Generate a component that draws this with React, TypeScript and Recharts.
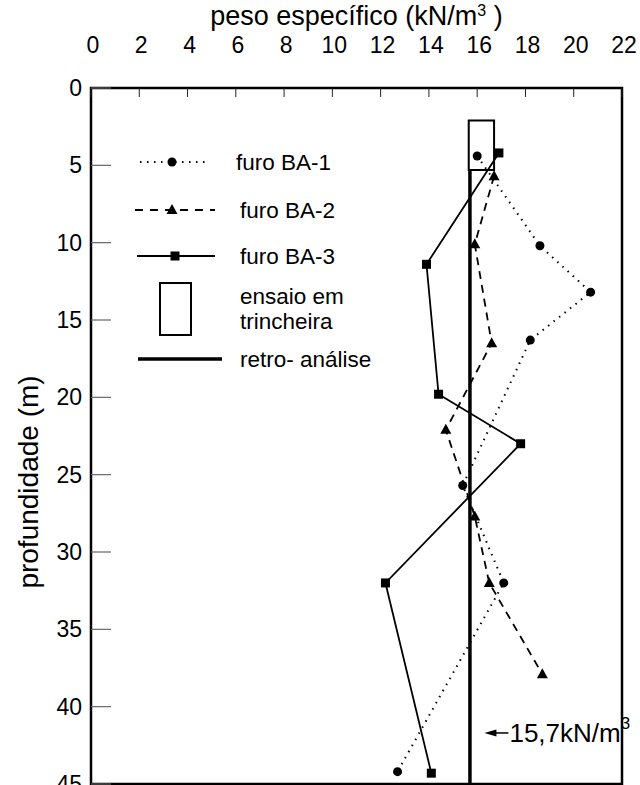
import React from 'react';
import {
  ScatterChart, Scatter, XAxis, YAxis, ReferenceArea, ReferenceLine, ReferenceDot, Legend, Label,
} from 'recharts';

// peso específico (kN/m3) x profundidade (m)
const ba1Peso = [16.0, 18.6, 20.7, 18.2, 15.4, 17.1, 12.7];
const ba1Prof = [4.4, 10.2, 13.2, 16.3, 25.7, 32.0, 44.2];

const ba2Peso = [16.7, 15.9, 16.6, 14.7, 15.9, 16.5, 18.7];
const ba2Prof = [5.7, 10.1, 16.5, 22.1, 27.7, 32.0, 37.9];

const ba3Peso = [16.9, 13.9, 14.4, 17.8, 12.2, 14.1];
const ba3Prof = [4.2, 11.4, 19.8, 23.0, 32.0, 44.3];

// ensaio em trincheira (faixa de valores / profundidades)
const trincheiraPeso = [15.65, 16.7];
const trincheiraProf = [2.1, 5.3];

const retroPeso = 15.7;
const retroProf = [5.3, 45];

const xTicks = [0, 2, 4, 6, 8, 10, 12, 14, 16, 18, 20, 22];
const yTicks = [0, 5, 10, 15, 20, 25, 30, 35, 40, 45];

const FONT = '"Liberation Sans", Arial, sans-serif';

const toPoints = (peso: number[], prof: number[]) => peso.map((v, i) => ({ v, d: prof[i] }));

const ba1 = toPoints(ba1Peso, ba1Prof);
const ba2 = toPoints(ba2Peso, ba2Prof);
const ba3 = toPoints(ba3Peso, ba3Prof);

const CircleMark = ({ cx, cy }: any) => <circle cx={cx} cy={cy} r={4.5} fill="#000" />;
const TriangleMark = ({ cx, cy }: any) => (
  <polygon points={`${cx},${cy - 6} ${cx - 5.5},${cy + 4} ${cx + 5.5},${cy + 4}`} fill="#000" />
);
const SquareMark = ({ cx, cy }: any) => <rect x={cx - 4.5} y={cy - 4.5} width={9} height={9} fill="#000" />;

const XTick = ({ x, y, payload }: any) => (
  <g>
    <line x1={x} x2={x} y1={y} y2={y + 9} stroke="#222" strokeWidth={1} />
    <text x={x + 2} y={y - 43} textAnchor="middle" dominantBaseline="central" fontSize={23} fontFamily={FONT} fill="#000">
      {payload.value}
    </text>
  </g>
);

const YTick = ({ x, y, payload }: any) => (
  <g>
    <line x1={x} x2={x + 20} y1={y} y2={y} stroke="#666" strokeWidth={1.2} />
    <text x={x - 9} y={y} textAnchor="end" dominantBaseline="central" fontSize={23} fontFamily={FONT} fill="#000">
      {payload.value}
    </text>
  </g>
);

const Title = ({ viewBox }: any) => (
  <text x={viewBox.x + viewBox.width / 2} y={16} textAnchor="middle" dominantBaseline="central" fontSize={27} fontFamily={FONT} fill="#000">
    peso específico (kN/m<tspan dy={-6} fontSize={16}>3</tspan><tspan dy={6}> )</tspan>
  </text>
);

const YLabel = ({ viewBox }: any) => {
  const cx = viewBox.x + 28;
  const cy = viewBox.y + viewBox.height / 2 + 46;
  return (
    <text transform={`translate(${cx},${cy}) rotate(-90)`} textAnchor="middle" dominantBaseline="central" fontSize={28} fontFamily={FONT} fill="#000">
      profundidade (m)
    </text>
  );
};

const Annotation = ({ cx, cy }: any) => (
  <g>
    <polygon points={`${cx},${cy} ${cx + 12},${cy - 3.5} ${cx + 12},${cy + 3.5}`} fill="#000" />
    <line x1={cx + 10} x2={cx + 24} y1={cy} y2={cy} stroke="#000" strokeWidth={1.5} />
    <text x={cx + 25} y={cy} dominantBaseline="central" fontSize={26} fontFamily={FONT} fill="#000">
      15,7kN/m<tspan dy={-10} fontSize={17}>3</tspan>
    </text>
  </g>
);

const legendRows = [
  { key: 'ba1', label: ['furo BA-1'], y: 162 },
  { key: 'ba2', label: ['furo BA-2'], y: 210 },
  { key: 'ba3', label: ['furo BA-3'], y: 256 },
  { key: 'trincheira', label: ['ensaio em', 'trincheira'], y: 309 },
  { key: 'retro', label: ['retro- análise'], y: 359 },
];

const LegendContent = () => (
  <svg width={640} height={400} style={{ display: 'block' }}>
    {legendRows.map(row => {
      const y = row.y;
      let sym: React.ReactNode = null;
      if (row.key === 'ba1') {
        sym = (
          <g>
            <line x1={140} x2={205} y1={y} y2={y} stroke="#000" strokeWidth={2} strokeDasharray="1.5 5.5" />
            <CircleMark cx={172} cy={y} />
          </g>
        );
      } else if (row.key === 'ba2') {
        sym = (
          <g>
            <line x1={135} x2={215} y1={y} y2={y} stroke="#000" strokeWidth={1.8} strokeDasharray="8 7" />
            <TriangleMark cx={172} cy={y} />
          </g>
        );
      } else if (row.key === 'ba3') {
        sym = (
          <g>
            <line x1={137} x2={215} y1={y} y2={y} stroke="#000" strokeWidth={1.8} />
            <SquareMark cx={175} cy={y} />
          </g>
        );
      } else if (row.key === 'trincheira') {
        sym = <rect x={160} y={y - 26} width={31} height={52} fill="none" stroke="#000" strokeWidth={2} />;
      } else {
        sym = <line x1={138} x2={222} y1={y} y2={y} stroke="#000" strokeWidth={3.5} />;
      }
      const lines = row.label;
      return (
        <g key={row.key}>
          {sym}
          {lines.map((t, i) => (
            <text
              key={t}
              x={row.key === 'ba1' ? 236 : 240}
              y={y + (i - (lines.length - 1) / 2) * 25}
              dominantBaseline="central"
              fontSize={22.5}
              fontFamily={FONT}
              fill="#000"
            >
              {t}
            </text>
          ))}
        </g>
      );
    })}
  </svg>
);

export default function App() {
  return (
    <div style={{ position: 'absolute', left: 0, top: 0, width: 640, height: 785, overflow: 'hidden', background: '#fff' }}>
      <ScatterChart width={640} height={800} margin={{ top: 0, right: 18, bottom: 16, left: 0 }}>
        <XAxis
          xAxisId={0}
          type="number"
          dataKey="v"
          orientation="top"
          domain={[0, 22]}
          ticks={xTicks}
          height={88}
          tickSize={0}
          tickMargin={0}
          tickLine={false}
          axisLine={false}
          tick={<XTick />}
          interval={0}
        >
          <Label content={<Title />} />
        </XAxis>
        <YAxis
          yAxisId={0}
          type="number"
          dataKey="d"
          reversed
          domain={[0, 45]}
          ticks={yTicks}
          width={91}
          tickSize={0}
          tickMargin={0}
          tickLine={false}
          axisLine={false}
          tick={<YTick />}
          interval={0}
        >
          <Label content={<YLabel />} />
        </YAxis>
        <ReferenceArea x1={0} x2={22} y1={0} y2={45} fill="none" stroke="#000" strokeWidth={2.5} />
        <ReferenceArea
          x1={trincheiraPeso[0]}
          x2={trincheiraPeso[1]}
          y1={trincheiraProf[0]}
          y2={trincheiraProf[1]}
          fill="none"
          fillOpacity={0}
          stroke="#000"
          strokeWidth={2}
        />
        <ReferenceLine
          segment={[{ x: retroPeso, y: retroProf[0] }, { x: retroPeso, y: retroProf[1] }]}
          stroke="#000"
          strokeWidth={3.5}
        />
        <ReferenceDot x={16.3} y={41.7} r={0} shape={<Annotation />} />
        <Scatter
          name="furo BA-1"
          data={ba1}
          line={{ stroke: '#000', strokeWidth: 2, strokeDasharray: '1.5 5.5' }}
          lineType="joint"
          shape={<CircleMark />}
          isAnimationActive={false}
        />
        <Scatter
          name="furo BA-2"
          data={ba2}
          line={{ stroke: '#000', strokeWidth: 1.8, strokeDasharray: '8 6' }}
          lineType="joint"
          shape={<TriangleMark />}
          isAnimationActive={false}
        />
        <Scatter
          name="furo BA-3"
          data={ba3}
          line={{ stroke: '#000', strokeWidth: 1.8 }}
          lineType="joint"
          shape={<SquareMark />}
          isAnimationActive={false}
        />
        <Legend
          layout="vertical"
          align="center"
          verticalAlign="middle"
          content={<LegendContent />}
          wrapperStyle={{ left: 0, top: 0, width: 640, height: 400 }}
        />
      </ScatterChart>
    </div>
  );
}
